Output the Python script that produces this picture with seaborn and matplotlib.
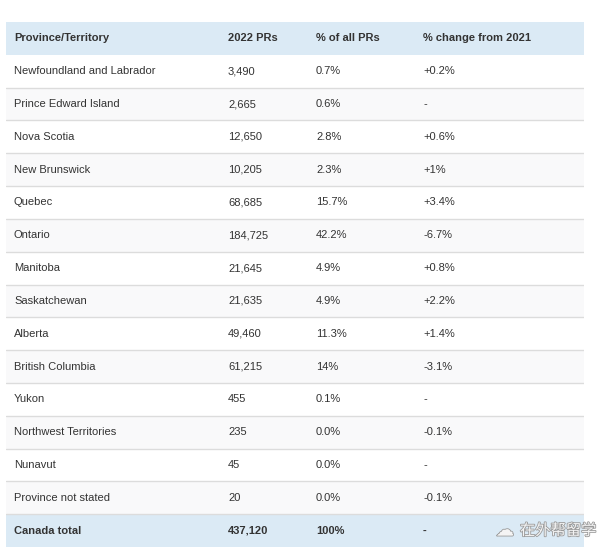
import seaborn as sns
import matplotlib.pyplot as plt
import matplotlib.patheffects as pe

columns = ["Province/Territory", "2022 PRs", "% of all PRs", "% change from 2021"]
provinces = ["Newfoundland and Labrador", "Prince Edward Island", "Nova Scotia",
             "New Brunswick", "Quebec", "Ontario", "Manitoba", "Saskatchewan",
             "Alberta", "British Columbia", "Yukon", "Northwest Territories",
             "Nunavut", "Province not stated"]
prs_2022 = ["3,490", "2,665", "12,650", "10,205", "68,685", "184,725", "21,645",
            "21,635", "49,460", "61,215", "455", "235", "45", "20"]
share = ["0.7%", "0.6%", "2.8%", "2.3%", "15.7%", "42.2%", "4.9%", "4.9%",
         "11.3%", "14%", "0.1%", "0.0%", "0.0%", "0.0%"]
change = ["+0.2%", "-", "+0.6%", "+1%", "+3.4%", "-6.7%", "+0.8%", "+2.2%",
          "+1.4%", "-3.1%", "-", "-0.1%", "-", "-0.1%"]
total = ["Canada total", "437,120", "100%", "-"]

sns.set_theme(style="white")
plt.rcParams["font.family"] = ["Liberation Sans", "DejaVu Sans"]

HEADER_BG = "#dbeaf5"
STRIPE_BG = "#f9f9fa"
LINE_COL = "#dcdcdc"
TEXT_COL = "#333333"
col_x = [8, 222, 310, 417]

fig = plt.figure(figsize=(6.13, 5.54), dpi=100)
ax = fig.add_axes([6 / 613, 7 / 554, 578 / 613, 525 / 554])
ax.set_xlim(0, 578)
n_rows = len(provinces) + 2
ax.set_ylim(n_rows, 0)
ax.axis("off")

rows = [columns] + [list(r) for r in zip(provinces, prs_2022, share, change)] + [total]

for i, row in enumerate(rows):
    if i == 0 or i == n_rows - 1:
        bg = HEADER_BG
    elif i % 2 == 0:
        bg = STRIPE_BG
    else:
        bg = "white"
    ax.axhspan(i, i + 1, color=bg, lw=0, zorder=0)
    if 0 < i < n_rows - 1:
        ax.axhline(i + 1, color=LINE_COL, lw=1, zorder=1)
    bold = i == 0 or i == n_rows - 1
    for x, txt in zip(col_x, row):
        ax.text(x, i + 0.5, txt, ha="left", va="center", fontsize=8,
                color=TEXT_COL, fontweight="bold" if bold else "normal")

# watermark
ax.text(490, n_rows - 0.5, "\u2601", ha="left", va="center", fontsize=13,
        color="#f4f4f4", family=["DejaVu Sans"], zorder=3, clip_on=False,
        path_effects=[pe.withStroke(linewidth=1.2, foreground="#9a9a9a")])
ax.text(514, n_rows - 0.5, "在外帮留学", ha="left", va="center", fontsize=11,
        color="#f4f4f4", family=["Noto Sans CJK SC", "DejaVu Sans"], zorder=3,
        clip_on=False,
        path_effects=[pe.withStroke(linewidth=1.2, foreground="#9a9a9a")])

plt.savefig("out.png", dpi=100)
